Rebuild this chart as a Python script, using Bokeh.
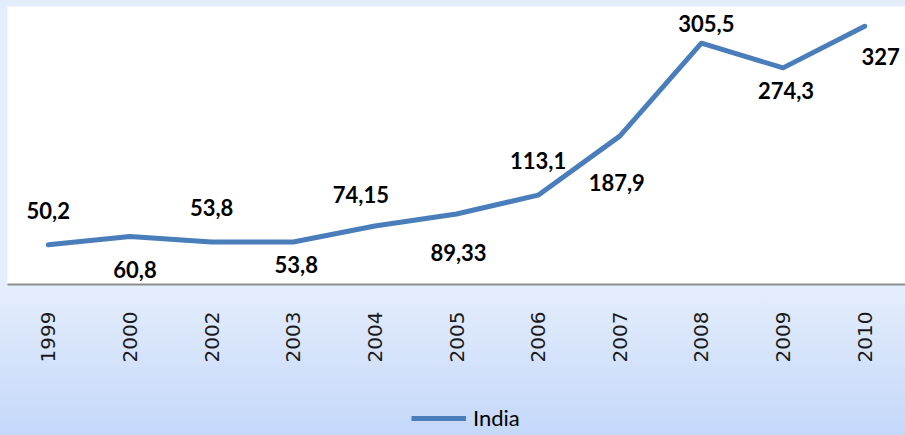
import math
from bokeh.plotting import figure
from bokeh.layouts import column
from bokeh.models import ColumnDataSource, LabelSet, Legend, LegendItem
from bokeh.core.properties import value
from bokeh.embed import file_html
from bokeh.resources import INLINE

# ---- data ----
years = ["1999", "2000", "2002", "2003", "2004", "2005", "2006", "2007", "2008", "2009", "2010"]
india = [50.2, 60.8, 53.8, 53.8, 74.15, 89.33, 113.1, 187.9, 305.5, 274.3, 327]
label_text = ["50,2", "60,8", "53,8", "53,8", "74,15", "89,33", "113,1", "187,9", "305,5", "274,3", "327"]
label_pos = ["above", "below", "above", "below-near", "above-left", "below-mid", "above",
             "below-far", "above-near", "below-near", "below-right"]
series_name = "India"

# label placement styles (screen px, y up)
POS_OFFSETS = {
    "above": (0, 26), "above-left": (-14, 23), "above-near": (5, 11),
    "below": (5, -42), "below-mid": (2, -47), "below-far": (-3, -55),
    "below-near": (3, -31), "below-right": (16, -39),
}
dx = [POS_OFFSETS[k][0] for k in label_pos]
dy = [POS_OFFSETS[k][1] for k in label_pos]

src = ColumnDataSource(dict(year=years, value=india, label=label_text, dx=dx, dy=dy))

LINE_COLOR = "#4A7EBB"

# ---- main chart ----
p = figure(x_range=years, y_range=(0, 352), width=905, height=380,
           output_backend="svg", toolbar_location=None, y_axis_location=None,
           min_border_left=7, min_border_right=0, min_border_top=6, min_border_bottom=96)
p.background_fill_color = "white"
p.border_fill_color = None
p.outline_line_color = None
p.grid.visible = False

r = p.line(x="year", y="value", source=src, line_color=LINE_COLOR, line_width=5,
           line_join="round", line_cap="round")

ax = p.xaxis[0]
ax.major_label_orientation = math.pi / 2
ax.axis_line_color = "#8C8C8C"
ax.axis_line_width = 2
ax.major_tick_line_color = None
ax.minor_tick_line_color = None
ax.major_label_standoff = 21
ax.major_label_text_font = "DejaVu Sans"
ax.major_label_text_font_size = "20px"
ax.major_label_text_color = "#1a1a1a"

labels = LabelSet(x="year", y="value", text="label", x_offset="dx", y_offset="dy", source=src,
                  text_font=value("Lato"), text_font_style="bold", text_font_size="22px",
                  text_align="center", text_baseline="alphabetic", text_color="#000000")
p.add_layout(labels)

# ---- legend strip (its series line lies outside the visible range) ----
q = figure(x_range=years, y_range=(1000, 2000), width=905, height=55,
           output_backend="svg", toolbar_location=None,
           x_axis_location=None, y_axis_location=None, min_border=0)
q.background_fill_color = None
q.border_fill_color = None
q.outline_line_color = None
q.grid.visible = False
rq = q.line(x="year", y="value", source=src, line_color=LINE_COLOR, line_width=5)

legend = Legend(items=[LegendItem(label=series_name, renderers=[rq])], location=(404, 4),
                orientation="horizontal", background_fill_alpha=0, border_line_color=None,
                label_text_font="Lato", label_text_font_size="22px", label_text_color="#000000",
                glyph_width=55, glyph_height=20, label_standoff=7, padding=0, margin=0)
q.add_layout(legend)

page = column(p, q, spacing=0, width=905, height=435,
              styles={"background": "linear-gradient(to bottom, #E4EDFC 0%, #E4EDFC 66%, #C4D8F9 100%)"})

open("out.html", "w").write(file_html(page, INLINE))
